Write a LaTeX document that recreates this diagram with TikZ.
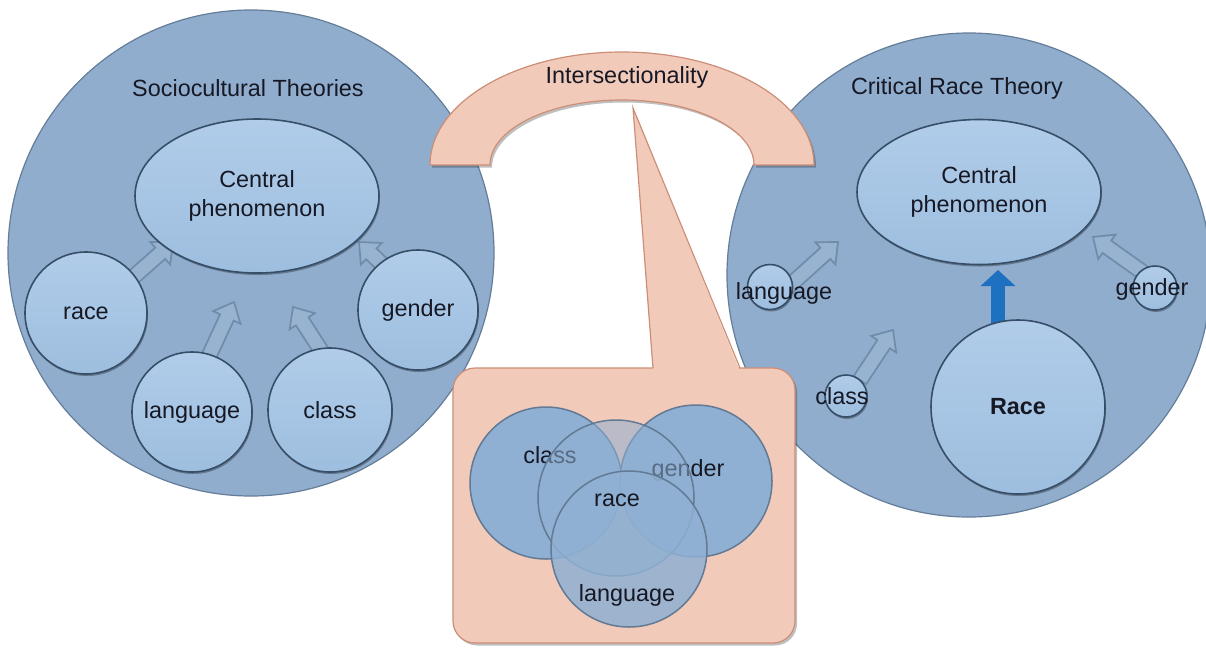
\documentclass[tikz,border=0pt]{standalone}
\usepackage{fontspec}
\setmainfont{Liberation Sans}
\usetikzlibrary{shapes.geometric,shadows,calc,arrows.meta}
\definecolor{bigfill}{RGB}{144,173,205}
\definecolor{bigedge}{RGB}{100,125,152}
\definecolor{sphtop}{RGB}{176,204,233}
\definecolor{sphbot}{RGB}{158,190,223}
\definecolor{sphedge}{RGB}{55,78,104}
\definecolor{pinkfill}{RGB}{242,202,186}
\definecolor{pinkedge}{RGB}{204,142,118}
\definecolor{vennfill}{RGB}{143,176,210}
\definecolor{vennedge}{RGB}{98,122,148}
\definecolor{arrowedge}{RGB}{112,140,170}
\definecolor{bluearr}{RGB}{30,112,192}
\definecolor{txtcol}{RGB}{22,24,36}
\newcommand\hollowarrow[2]{%
  \draw[hollow] ($(#1)!7.5pt!90:(#2)$) -- ($(#2)!17pt!(#1)!7.5pt!-90:(#1)$)
    -- ($(#2)!17pt!(#1)!15pt!-90:(#1)$) -- (#2)
    -- ($(#2)!17pt!(#1)!15pt!90:(#1)$) -- ($(#2)!17pt!(#1)!7.5pt!90:(#1)$)
    -- ($(#1)!7.5pt!-90:(#2)$) -- cycle;}
\begin{document}
\begin{tikzpicture}[x=1pt,y=-1pt,
  txt/.style={font=\fontsize{23.4}{29}\selectfont, text=txtcol, align=center, inner sep=0pt},
  bigcirc/.style={circle, inner sep=0pt, draw=bigedge, line width=1.2pt, fill=bigfill},
  sphere/.style={circle, inner sep=0pt, draw=sphedge, line width=1.6pt, top color=sphtop, bottom color=sphbot,
    drop shadow={shadow xshift=1pt, shadow yshift=-2pt, opacity=.3, fill=black},
    font=\fontsize{23.4}{29}\selectfont, text=txtcol, align=center},
  hollow/.style={draw=arrowedge, line width=1.7pt, fill=white, fill opacity=.08, line join=miter},
  pinkshape/.style={draw=pinkedge, line width=1.2pt, fill=pinkfill,
    drop shadow={shadow xshift=2pt, shadow yshift=-2.5pt, opacity=.25, fill=black}},
  venn/.style={circle, inner sep=0pt, draw=vennedge, line width=1.5pt, fill=vennfill}
]
\useasboundingbox (0,0) rectangle (1206,649);
\clip (0,0) rectangle (1206,649);
% big circles
\node[bigcirc, minimum size=486] (left) at (251,253) {};
\node[bigcirc, minimum size=484] (right) at (969,275) {};
\node[txt] (lt) at (248,88) {Sociocultural Theories};
\node[txt] (rt) at (957,88) {Critical Race Theory};
% left hollow arrows
\coordinate (a1s) at (130,280); \coordinate (a1e) at (173,242);
\coordinate (a2s) at (209,356); \coordinate (a2e) at (234,302);
\coordinate (a3s) at (322,352); \coordinate (a3e) at (293,307);
\coordinate (a4s) at (385,267); \coordinate (a4e) at (359,242);
\hollowarrow{a1s}{a1e}
\hollowarrow{a2s}{a2e}
\hollowarrow{a3s}{a3e}
\hollowarrow{a4s}{a4e}
% left shapes
\node[sphere, ellipse, minimum width=244, minimum height=154] (cp1) at (257,196) {Central\\phenomenon};
\node[sphere, minimum size=122] (race1) at (86,313) {race};
\node[sphere, minimum size=120] (lang1) at (192,412) {language};
\node[sphere, minimum size=124] (class1) at (330,410) {class};
\node[sphere, minimum size=120] (gender1) at (418,310) {gender};
% right hollow arrows
\coordinate (b1s) at (788,287); \coordinate (b1e) at (838,242);
\coordinate (b2s) at (860,380); \coordinate (b2e) at (893,330);
\coordinate (b3s) at (1148,276); \coordinate (b3e) at (1093,237);
\hollowarrow{b1s}{b1e}
\hollowarrow{b2s}{b2e}
\hollowarrow{b3s}{b3e}
% right shapes
\node[sphere, ellipse, minimum width=244, minimum height=145] (cp2) at (979,192) {Central\\phenomenon};
\coordinate (bluetip) at (998,270);
\draw[-{Triangle[width=34pt,length=16pt]}, line width=14pt, draw=bluearr] (998,330) -- (bluetip);
\node[sphere, minimum size=174] (race2) at (1018,407) {\textbf{Race}};
\node[sphere, minimum size=45] (lang2) at (770,287) {};
\node[sphere, minimum size=42] (class2) at (846,396) {};
\node[sphere, minimum size=44] (gender2) at (1155,288) {};
\node[txt] (lang2t) at (784,293) {language};
\node[txt] (class2t) at (842,396) {class};
\node[txt] (gender2t) at (1152,289) {gender};
% arch
\path[pinkshape] (430,165) arc[start angle=180, end angle=360, x radius=192, y radius=113]
  -- (754,165) arc[start angle=360, end angle=180, x radius=132, y radius=65] -- cycle;
\node[txt] (inter) at (627,77) {Intersectionality};
% callout box
\node[pinkshape, rounded corners=22pt, minimum width=342, minimum height=275, inner sep=0pt] (box) at (624,505.5) {};
\coordinate (apex) at (633,108);
\coordinate (wl) at (653,368);
\coordinate (wr) at (740,368);
\fill[pinkfill] ($(wl)+(0,3)$) -- (apex) -- ($(wr)+(0,3)$) -- cycle;
\draw[draw=pinkedge, line width=1.2pt, line join=miter] (wl) -- (apex) -- (wr);
% venn
\node[venn, minimum size=152] (vclass) at (546,483) {};
\node[txt] (vclasst) at (550,455) {class};
\node[venn, minimum size=152] (vgender) at (696,481) {};
\node[txt] (vgendert) at (688,470) {gender};
\node[venn, fill opacity=.55, minimum size=156] (vrace) at (616,498) {};
\node[venn, fill opacity=.85, minimum size=156] (vlang) at (629,549) {};
\node[txt] (vracet) at (617,500) {race};
\node[txt] (vlangt) at (627,595) {language};
\end{tikzpicture}
\end{document}
